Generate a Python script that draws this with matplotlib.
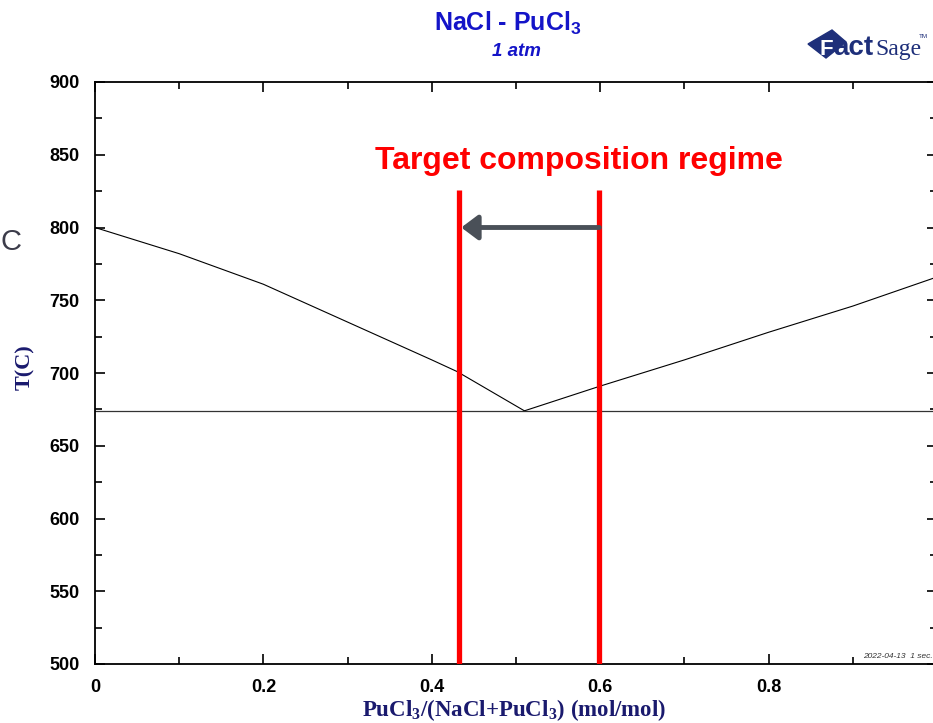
import matplotlib
matplotlib.use("Agg")
import matplotlib.pyplot as plt
from matplotlib.patches import Polygon

# liquidus
left_x = [0, 0.1, 0.2, 0.3, 0.4, 0.43, 0.51]
left_T = [800, 782, 761, 735, 709, 701, 674]
right_x = [0.51, 0.6, 0.7, 0.8, 0.9, 1.0]
right_T = [674, 691, 709, 728, 746, 766]
eutectic_T = 674

# target composition window
target_x = [0.432, 0.599]
target_top = 826
arrow_T = 800

x_ticks = [0, 0.2, 0.4, 0.6, 0.8]
x_labels = ["0", "0.2", "0.4", "0.6", "0.8"]
y_ticks = [500, 550, 600, 650, 700, 750, 800, 850, 900]

W, H = 933, 723
SANS = "Liberation Sans"
SERIF = "Liberation Serif"
NAVY = "#1a1a6e"
BLUE = "#1414c8"
LOGO = "#1e2f7a"

plt.rcParams["mathtext.fontset"] = "custom"
plt.rcParams["mathtext.bf"] = "Liberation Serif:bold"
plt.rcParams["mathtext.sf"] = "Liberation Sans:bold"

fig = plt.figure(figsize=(W / 100, H / 100), dpi=100)
ax = fig.add_axes([95 / W, (H - 664) / H, 842 / W, 582 / H])

ax.plot(left_x, left_T, color="black", lw=0.8)
ax.plot(right_x, right_T, color="black", lw=0.8)
ax.axhline(eutectic_T, color="#333333", lw=0.9)

for xv in target_x:
    ax.plot([xv, xv], [500, target_top], color="#ff0000", lw=3.8,
            solid_capstyle="butt", zorder=4)

ax.annotate("", xy=(target_x[0] + 0.003, arrow_T), xytext=(target_x[1], arrow_T),
            arrowprops=dict(arrowstyle="-|>,head_length=1.0,head_width=0.75",
                            color="#4a5058", lw=3.5, shrinkA=0, shrinkB=0),
            zorder=5)

ax.text(0.575, 846, "Target composition regime", color="#ff0000",
        fontsize=23, fontweight="bold", family=SANS, ha="center", va="center")

ax.set_xlim(0, 1)
ax.set_ylim(500, 900)
ax.set_xticks(x_ticks)
ax.set_xticklabels(x_labels)
ax.set_xticks([0.1, 0.3, 0.5, 0.7, 0.9], minor=True)
ax.set_yticks(y_ticks)
ax.set_yticks([525, 575, 625, 675, 725, 775, 825, 875], minor=True)
ax.tick_params(which="both", direction="in", top=True, right=True, width=1.2)
ax.tick_params(which="major", length=7)
ax.tick_params(which="minor", length=5)
ax.tick_params(axis="y", which="major", pad=11)
ax.tick_params(axis="x", which="major", pad=11)
for lab in ax.get_xticklabels() + ax.get_yticklabels():
    lab.set_family(SANS)
    lab.set_fontweight("bold")
    lab.set_fontsize(13)
for sp in ax.spines.values():
    sp.set_linewidth(1.3)

ax.set_ylabel("T(C)", family=SERIF, fontweight="bold", fontsize=16, color=NAVY)
ax.yaxis.set_label_coords(-60 / 842, 0.51)
ax.set_xlabel(r"PuCl$_\mathbf{3}$/(NaCl+PuCl$_\mathbf{3}$) (mol/mol)", family=SERIF,
              fontweight="bold", fontsize=16.5, color=NAVY, va="center")
ax.xaxis.set_label_coords((514 - 95) / 842, -(710 - 664) / 582)

# titles
fig.text(508 / W, 1 - 23 / H, r"NaCl - PuCl$_\mathsf{3}$", family=SANS, fontweight="bold",
         fontsize=18, color=BLUE, ha="center", va="center")
fig.text(516 / W, 1 - 51 / H, "1 atm", family=SANS, fontweight="bold", style="italic",
         fontsize=13.5, color=BLUE, ha="center", va="center")

# FactSage logo
fig.patches.append(Polygon([[808 / W, 1 - 44 / H], [832 / W, 1 - 30 / H],
                            [846 / W, 1 - 42 / H], [826 / W, 1 - 58 / H]],
                           closed=True, transform=fig.transFigure,
                           color=LOGO, zorder=1))
fig.text(826 / W, 1 - 55 / H, "F", family=SANS, fontweight="bold", fontsize=16,
         color="white", ha="center", va="baseline")
fig.text(833 / W, 1 - 55 / H, "act", family=SANS, fontweight="bold", fontsize=20,
         color=LOGO, ha="left", va="baseline")
fig.text(875 / W, 1 - 55 / H, "Sage", family=SERIF, fontsize=17,
         color=LOGO, ha="left", va="baseline")
fig.text(919 / W, 1 - 37 / H, "TM", family=SANS, fontsize=4.5,
         color=LOGO, ha="left", va="center")

# stamp
ax.text(0.995, 503, "2022-04-13  1 sec.", family=SANS, style="italic", fontsize=6,
        color="#333333", ha="right", va="bottom")

# stray slide letter at left edge
fig.text(0, 1 - 242 / H, "C", family=SANS, fontsize=21, color="#3c3c4a",
         ha="left", va="center")

fig.savefig("out.png", dpi=100)
